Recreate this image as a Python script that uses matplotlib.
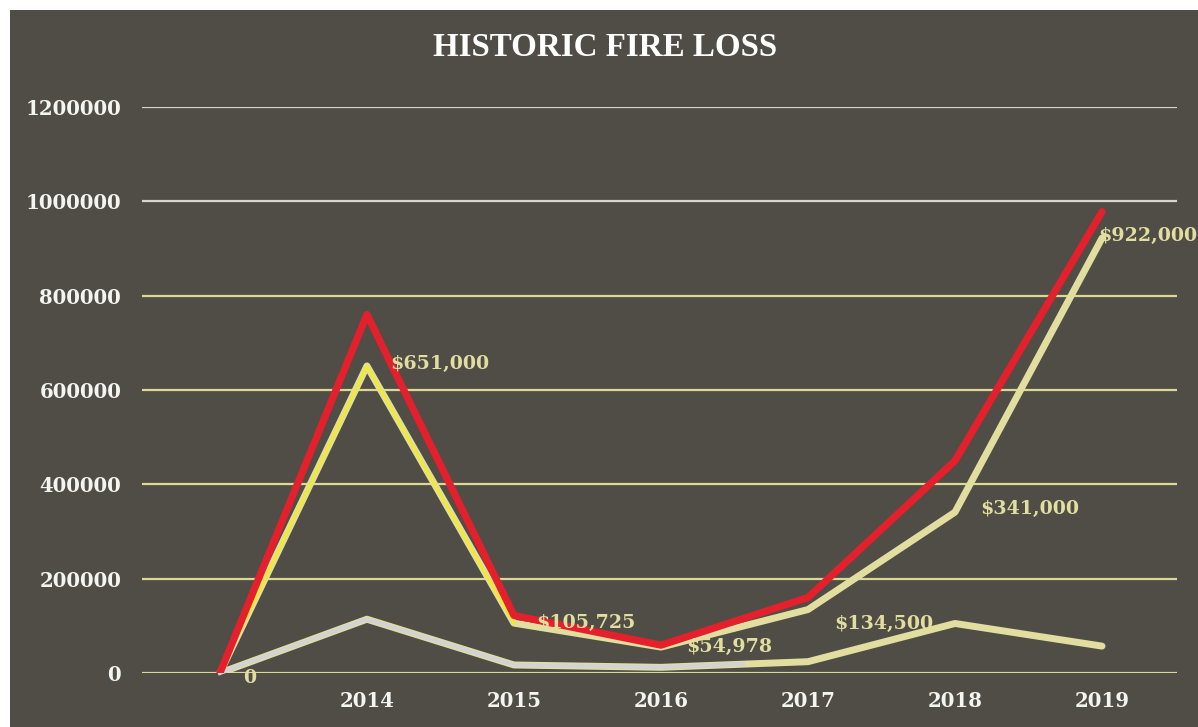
import matplotlib
matplotlib.use("Agg")
import matplotlib.pyplot as plt
from matplotlib.patches import Rectangle

# datos
anios = ["", "2014", "2015", "2016", "2017", "2018", "2019"]
perdida_total = [0, 760000, 122000, 59000, 160000, 450000, 978000]
perdida_propiedad = [0, 651000, 105725, 54978, 134500, 341000, 922000]
perdida_contenido = [0, 114000, 17000, 12000, 24000, 105000, 57000]
etiquetas = ["0", "$651,000", "$105,725", "$54,978", "$134,500", "$341,000", "$922,000"]
valores_eje_y = [0, 200000, 400000, 600000, 800000, 1000000, 1200000]

FONDO = "#504d46"
ROJO = "#e3202c"
CAQUI = "#e2dea0"
AMARILLO = "#f2ea2a"
GRIS = "#d2d3d5"
BLANCO = "#f4f4f0"

fig = plt.figure(figsize=(11.98, 7.27), dpi=100, facecolor="white")
fondo = Rectangle((10 / 1198, 0), 1, 1 - 10 / 727, transform=fig.transFigure,
                  facecolor=FONDO, edgecolor="none", zorder=-5)
fig.add_artist(fondo)

ax = fig.add_axes([142 / 1198, 1 - 673 / 727, (1177 - 142) / 1198, (673 - 107) / 727])
ax.set_facecolor("none")
x = list(range(len(anios)))

# rejilla: las dos de arriba en gris claro, el resto en caqui
for v in valores_eje_y:
    color = "#d6d6d0" if v >= 1000000 else "#dcd896"
    ax.axhline(v, color=color, linewidth=1.6, zorder=1)

# linea inferior (contenido): caqui debajo, gris encima hasta mitad de 2016-2017
ax.plot(x, perdida_contenido, color=CAQUI, linewidth=5, solid_capstyle="round", zorder=2)
gris, = ax.plot(x, perdida_contenido, color=GRIS, linewidth=3, zorder=3)
gris.set_clip_path(Rectangle((-1, -1e6), 4.57, 3e6, transform=ax.transData))

# linea de propiedad: caqui, con el primer tramo amarillo
ax.plot(x, perdida_propiedad, color=CAQUI, linewidth=5, solid_capstyle="round", zorder=4)
ax.plot(x[:3], perdida_propiedad[:3], color=AMARILLO, linewidth=2, zorder=5)

# total en rojo
ax.plot(x, perdida_total, color=ROJO, linewidth=5.2, solid_capstyle="round", zorder=6)

desplaz = [(23, -5), (23, 2), (22, 0), (25, 0), (26, -14), (25, 3), (-4, 2)]
for i, (texto, (dx, dy)) in enumerate(zip(etiquetas, desplaz)):
    ax.annotate(texto, (x[i], perdida_propiedad[i]), xytext=(dx * 0.72, dy * 0.72),
                textcoords="offset points", ha="left", va="center", color=CAQUI,
                fontsize=13.7, fontweight="bold", family="DejaVu Serif",
                zorder=8, annotation_clip=False)

ax.set_xlim(-0.53, 6.51)
ax.set_ylim(0, 1200000)
ax.set_xticks(x)
ax.set_xticklabels(anios)
ax.set_yticks(valores_eje_y)
ax.set_yticklabels([str(v) for v in valores_eje_y])
ax.tick_params(length=0, colors=BLANCO, labelsize=14.2)
ax.tick_params(axis="x", pad=13)
ax.tick_params(axis="y", pad=15)
for lab in ax.get_xticklabels() + ax.get_yticklabels():
    lab.set_family("DejaVu Serif")
    lab.set_fontweight("bold")
for s in ax.spines.values():
    s.set_visible(False)

fig.text(605 / 1198, 1 - 48 / 727, "HISTORIC FIRE LOSS", ha="center", va="center",
         color="white", fontsize=23.8, fontweight="bold", family="Liberation Serif")

fig.savefig("out.png", dpi=100, facecolor="white")
